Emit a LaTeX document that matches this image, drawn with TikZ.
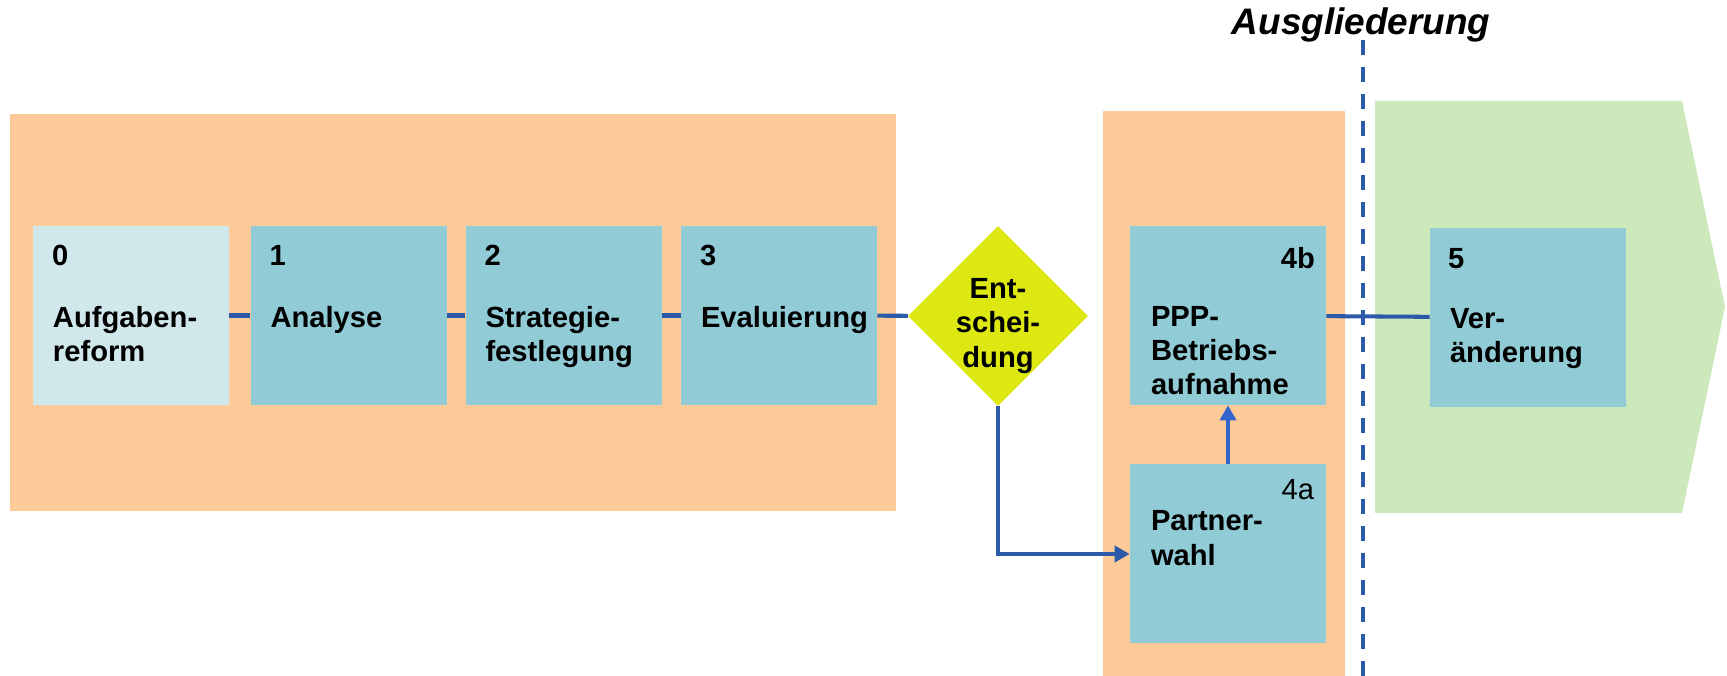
\documentclass[tikz,border=0pt]{standalone}
\usepackage{fontspec}
\setmainfont{Liberation Sans}
\usetikzlibrary{arrows.meta,shapes.geometric}

\definecolor{phasebg}{HTML}{FDCA9A}
\definecolor{outbg}{HTML}{CDE9BB}
\definecolor{stagelight}{HTML}{D0E8EC}
\definecolor{stagecol}{HTML}{91CBD6}
\definecolor{decidecol}{HTML}{DDE813}
\definecolor{linkblue}{HTML}{2B5BA8}
\definecolor{upblue}{HTML}{3366CC}

\newcommand{\stagefont}{\fontsize{16.6}{19.6}\selectfont}
\newcommand{\headfont}{\fontsize{21}{25}\selectfont}

\tikzset{
    stage/.style={fill=stagecol, minimum width=3.92cm, minimum height=3.58cm, inner sep=0pt},
    stagenum/.style={anchor=north west, inner sep=0pt, font=\bfseries\stagefont},
    stagetxt/.style={anchor=north west, inner sep=0pt, align=left, font=\bfseries\stagefont},
    link/.style={draw=linkblue, line width=2.3pt},
    tip/.style={-{Triangle[length=0.3cm,width=0.32cm]}},
    divider/.style={draw=linkblue, line width=2.3pt, dash pattern=on 0.3cm off 0.24cm},
}

\begin{document}
\begin{tikzpicture}
        \useasboundingbox (0,0) rectangle (34.54,13.52);
        % backgrounds
        \fill[phasebg] (0.2,3.3) rectangle (17.92,11.24);
        \fill[phasebg] (22.06,0) rectangle (26.9,11.3);
        \fill[outbg] (27.5,11.5) -- (33.64,11.5) -- (34.5,7.38) -- (33.64,3.26) -- (27.5,3.26) -- cycle;

        \node[font=\bfseries\itshape\headfont, anchor=base, inner sep=0pt] at (27.22,12.82) (ausg) {Ausgliederung};
        \coordinate (cut-top) at (27.26,12.72);
        \coordinate (cut-bot) at (27.26,0);
        \draw[divider] (cut-top) -- (cut-bot);

        % stages
        \node[stage, fill=stagelight] at (2.62,7.21) (aufg) {};
        \node[stage] at (6.97,7.21) (ana) {};
        \node[stage] at (11.27,7.21) (strat) {};
        \node[stage] at (15.58,7.21) (eval) {};
        \node[diamond, fill=decidecol, aspect=1, minimum width=3.6cm, minimum height=3.6cm, inner sep=0pt] at (19.96,7.2) (ent) {};
        \node[stage] at (24.56,7.21) (ppp) {};
        \node[stage] at (24.56,2.44) (pw) {};
        \node[stage] at (30.56,7.17) (ver) {};

        \node[stagenum] at ([xshift=.38cm, yshift=-.38cm]aufg.north west) (aufg-n) {0};
        \node[stagetxt] at ([xshift=.4cm, yshift=-1.6cm]aufg.north west) (aufg-t) {Aufgaben-\\reform};
        \node[stagenum] at ([xshift=.38cm, yshift=-.38cm]ana.north west) (ana-n) {1};
        \node[stagetxt] at ([xshift=.4cm, yshift=-1.6cm]ana.north west) (ana-t) {Analyse};
        \node[stagenum] at ([xshift=.38cm, yshift=-.38cm]strat.north west) (strat-n) {2};
        \node[stagetxt] at ([xshift=.4cm, yshift=-1.6cm]strat.north west) (strat-t) {Strategie-\\festlegung};
        \node[stagenum] at ([xshift=.38cm, yshift=-.38cm]eval.north west) (eval-n) {3};
        \node[stagetxt] at ([xshift=.4cm, yshift=-1.6cm]eval.north west) (eval-t) {Evaluierung};
        \node[stagetxt, anchor=north, align=center] at ([yshift=.76cm]ent.center) (ent-t) {Ent-\\schei-\\dung};
        \node[stagenum, anchor=north east] at ([xshift=-.22cm, yshift=-.42cm]ppp.north east) (ppp-n) {4b};
        \node[stagetxt] at ([xshift=.42cm, yshift=-1.6cm]ppp.north west) (ppp-t) {PPP-\\Betriebs-\\aufnahme};
        \node[stagenum, anchor=north east, font=\stagefont] at ([xshift=-.24cm, yshift=-.3cm]pw.north east) (pw-n) {4a};
        \node[stagetxt] at ([xshift=.42cm, yshift=-.92cm]pw.north west) (pw-t) {Partner-\\wahl};
        \node[stagenum] at ([xshift=.36cm, yshift=-.4cm]ver.north west) (ver-n) {5};
        \node[stagetxt] at ([xshift=.4cm, yshift=-1.6cm]ver.north west) (ver-t) {Ver-\\änderung};

        % connectors
        \draw[link] (aufg) -- (ana);
        \draw[link] (ana) -- (strat);
        \draw[link] (strat) -- (eval);
        \draw[link] (eval) -- (ent);
        \draw[link, tip] (ent.south) |- (pw.west);
        \draw[link, draw=upblue, tip] (pw) -- (ppp);
        \draw[link] (ppp) -- (ver);
    \end{tikzpicture}
\end{document}
